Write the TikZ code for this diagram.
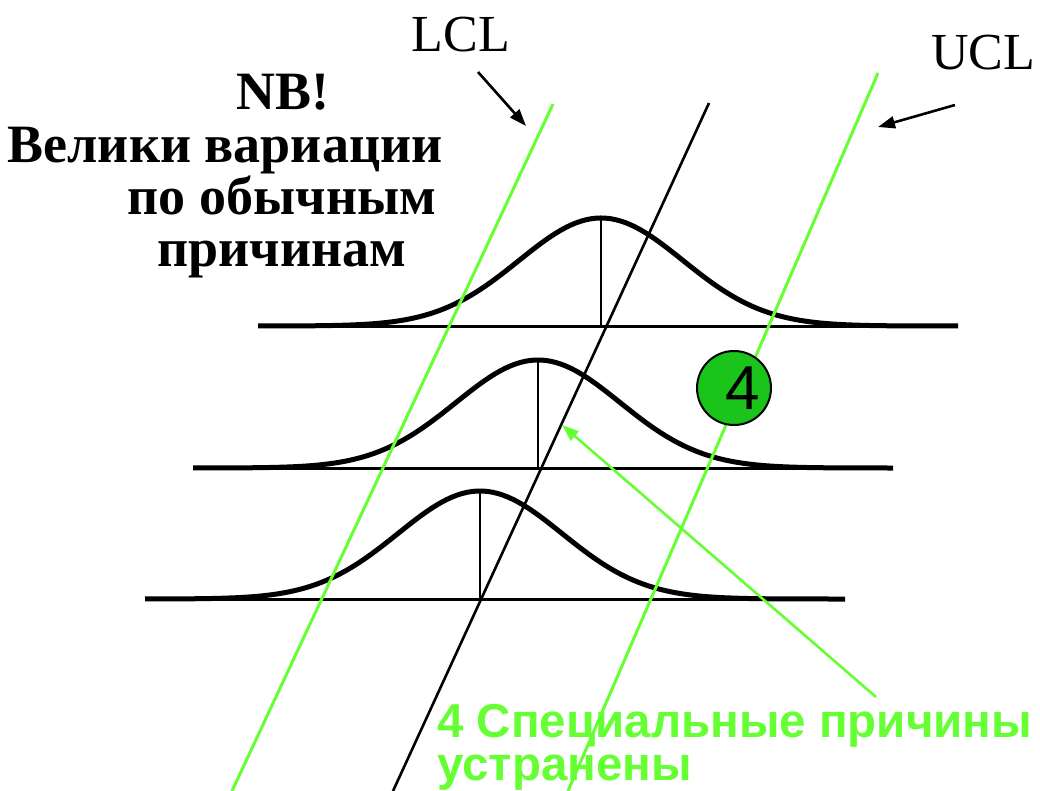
\documentclass[tikz,border=0pt]{standalone}
\usepackage{fontspec}
\setmainfont{Liberation Serif}
\setsansfont{Liberation Sans}
\usetikzlibrary{arrows.meta}
\definecolor{limegreen}{RGB}{102,255,51}
\definecolor{ballgreen}{RGB}{26,196,26}

\begin{document}
\begin{tikzpicture}[x=1pt, y=-1pt,
  curve/.style={line width=5pt, line join=round},
  base/.style={line width=3pt},
  mean/.style={line width=2.6pt},
  limit/.style={limegreen, line width=3pt},
  centre/.style={line width=2.6pt},
  arr/.style={-{Triangle[length=17pt,width=12pt]}, line width=2.6pt},
  lbl/.style={font=\fontsize{52}{60}\selectfont, inner sep=0pt, anchor=base},
  note/.style={font=\fontsize{54}{60}\selectfont\bfseries, inner sep=0pt, anchor=base},
  spec/.style={font=\fontsize{47.5}{43}\selectfont\sffamily\bfseries, text=limegreen, inner sep=0pt, anchor=base west},
  ball/.style={circle, draw, line width=2pt, fill=ballgreen, minimum size=74pt, inner sep=0pt}
]
\useasboundingbox (0,0) rectangle (1040,791);
\fill[white] (0,0) rectangle (1040,791);

% three distributions
\foreach \cx/\by/\lx/\rx in {601/326/258/958, 538/468/193/893, 480/599/145/845} {
  \draw[base] (\lx,\by) -- (\rx,\by);
  \draw[mean] (\cx,\by) -- (\cx,{\by-108});
  \draw[curve] plot[domain=\lx:\rx, samples=140] (\x, {\by-108*exp(-0.5*((\x-\cx)/82)^2)});
}

% centre and control limits
\coordinate (ctrtop) at (709,103);
\coordinate (ctrbot) at (393,791);
\coordinate (lcltop) at (553,104);
\coordinate (lclbot) at (232,791);
\coordinate (ucltop) at (878,73);
\coordinate (uclbot) at (568,791);
\draw[centre] (ctrtop) -- (ctrbot);
\draw[limit] (lcltop) -- (lclbot);
\draw[limit] (ucltop) -- (uclbot);

% labels
\node[lbl] (lcl) at (461,52) {LCL};
\node[lbl] (ucl) at (983,70) {UCL};
\coordinate (lcltail) at (478,72);
\coordinate (lcltip) at (526,126);
\coordinate (ucltail) at (955,105);
\coordinate (ucltip) at (878,127);
\draw[arr] (lcltail) -- (lcltip);
\draw[arr] (ucltail) -- (ucltip);

\node[note] (nb) at (283,110) {NB!};
\node[note] (nb2) at (225,163) {Велики вариации};
\node[note] (nb3) at (282,215) {по обычным};
\node[note] (nb4) at (282,267) {причинам};

% special causes
\node[ball] (ball) at (734,388) {};
\node[font=\fontsize{62}{62}\selectfont\sffamily, inner sep=0pt] (four) at ([xshift=9pt]ball.center) {4};

\coordinate (spectail) at (876,697);
\coordinate (spectip) at (562,425);
\draw[limit, line width=2.6pt, -{Triangle[length=17pt,width=12pt]}] (spectail) -- (spectip);

\node[spec] (spec1) at (437,737) {4 Специальные причины};
\node[spec] (spec2) at (437,780) {устранены};
\end{tikzpicture}
\end{document}
